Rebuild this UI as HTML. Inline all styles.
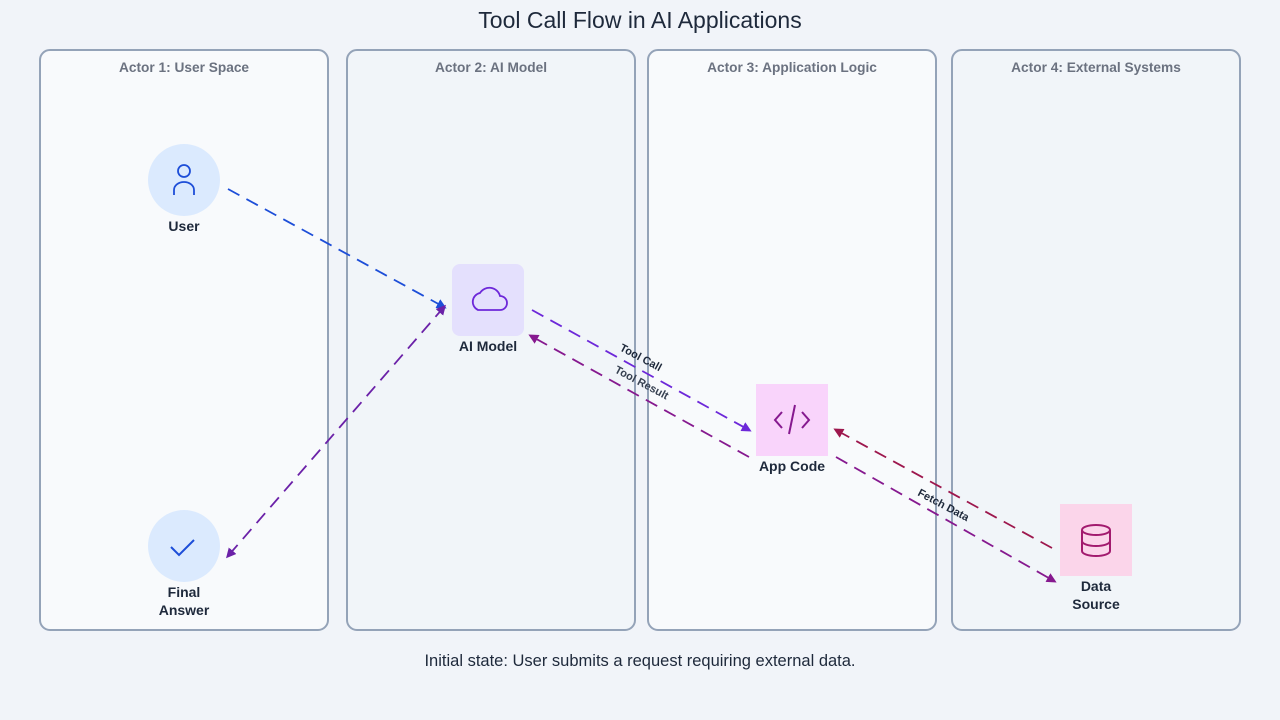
<!DOCTYPE html>
<html><head><meta charset="utf-8"><style>
body{margin:0;background:#f1f4f9;font-family:"Liberation Sans",sans-serif;}
svg{display:block}
text{font-family:"Liberation Sans",sans-serif}
</style></head><body>
<svg width="1280" height="720" viewBox="0 0 1280 720" xmlns="http://www.w3.org/2000/svg">
<defs>
<marker id="a1" markerWidth="10" markerHeight="10" refX="7" refY="5" orient="auto" markerUnits="userSpaceOnUse"><path d="M0,0 L10,5 L0,10 z" fill="#1d4ed8"/></marker>
<marker id="a2" markerWidth="10" markerHeight="10" refX="7" refY="5" orient="auto" markerUnits="userSpaceOnUse"><path d="M0,0 L10,5 L0,10 z" fill="#6d28d9"/></marker>
<marker id="a3" markerWidth="10" markerHeight="10" refX="7" refY="5" orient="auto" markerUnits="userSpaceOnUse"><path d="M0,0 L10,5 L0,10 z" fill="#86198f"/></marker>
<marker id="a4" markerWidth="10" markerHeight="10" refX="7" refY="5" orient="auto" markerUnits="userSpaceOnUse"><path d="M0,0 L10,5 L0,10 z" fill="#9d174d"/></marker>
<marker id="a5" markerWidth="10" markerHeight="10" refX="7" refY="5" orient="auto" markerUnits="userSpaceOnUse"><path d="M0,0 L10,5 L0,10 z" fill="#6b21a8"/></marker>
<marker id="s5" markerWidth="10" markerHeight="10" refX="3" refY="5" orient="auto" markerUnits="userSpaceOnUse"><path d="M10,0 L0,5 L10,10 z" fill="#6b21a8"/></marker>
</defs>
<text x="640" y="28" text-anchor="middle" font-size="23" fill="#1e293b">Tool Call Flow in AI Applications</text>
<g stroke="#94a3b8" stroke-width="2">
<rect x="40" y="50" width="288" height="580" rx="10" fill="#f8fafc"/>
<rect x="347" y="50" width="288" height="580" rx="10" fill="#f1f5f9"/>
<rect x="648" y="50" width="288" height="580" rx="10" fill="#f8fafc"/>
<rect x="952" y="50" width="288" height="580" rx="10" fill="#f1f5f9"/>
</g>
<g font-size="13.7" font-weight="bold" fill="#6b7280" text-anchor="middle">
<text x="184" y="72">Actor 1: User Space</text>
<text x="491" y="72">Actor 2: AI Model</text>
<text x="792" y="72">Actor 3: Application Logic</text>
<text x="1096" y="72">Actor 4: External Systems</text>
</g>
<circle cx="184" cy="180" r="36" fill="#dbeafe"/>
<g fill="none" stroke="#1d4ed8" stroke-width="1.8"><circle cx="184" cy="171" r="6"/><path d="M174,195 v-5 a10,8 0 0 1 20,0 v5"/></g>
<circle cx="184" cy="546" r="36" fill="#dbeafe"/>
<path d="M171,547 l8,8 l15,-15" fill="none" stroke="#1d4ed8" stroke-width="2"/>
<rect x="452" y="264" width="72" height="72" rx="8" fill="#e4e0fd"/>
<path d="M478,310 h22 a7,7 0 0 0 0,-14 a11,11 0 0 0 -20,-3 a9,9 0 0 0 -2,17 z" fill="none" stroke="#6d28d9" stroke-width="1.8"/>
<rect x="756" y="384" width="72" height="72" fill="#f9d4fb"/>
<g fill="none" stroke="#86198f" stroke-width="2"><path d="M782,412 l-7,8 l7,8"/><path d="M802,412 l7,8 l-7,8"/><path d="M795,405 l-6,29"/></g>
<rect x="1060" y="504" width="72" height="72" fill="#fbd5ea"/>
<g fill="none" stroke="#a21a6e" stroke-width="2"><ellipse cx="1096" cy="530" rx="14" ry="5"/><path d="M1082,530 v21 a14,5 0 0 0 28,0 v-21"/><path d="M1082,541 a14,5 0 0 0 28,0"/></g>
<g font-size="14" font-weight="bold" fill="#1e293b" text-anchor="middle">
<text x="184" y="231">User</text>
<text x="184" y="597">Final</text><text x="184" y="615">Answer</text>
<text x="488" y="351">AI Model</text>
<text x="792" y="471">App Code</text>
<text x="1096" y="591">Data</text><text x="1096" y="609">Source</text>
</g>
<g fill="none" stroke-width="1.8" stroke-dasharray="13,8">
<line x1="228" y1="189" x2="444" y2="307" stroke="#1d4ed8" marker-end="url(#a1)"/>
<line x1="444" y1="307" x2="228" y2="556" stroke="#6b21a8" marker-end="url(#a5)" marker-start="url(#s5)"/>
<line x1="532" y1="310" x2="749" y2="430" stroke="#6d28d9" marker-end="url(#a2)"/>
<line x1="749" y1="457" x2="531" y2="336" stroke="#86198f" marker-end="url(#a3)"/>
<line x1="836" y1="457" x2="1054" y2="581" stroke="#86198f" marker-end="url(#a3)"/>
<line x1="1052" y1="548" x2="836" y2="430" stroke="#9d174d" marker-end="url(#a4)"/>
</g>
<g font-size="11" font-weight="bold" fill="#1e293b">
<text transform="translate(619,350) rotate(28)">Tool Call</text>
<text transform="translate(614,372) rotate(28)" fill="#374151">Tool Result</text>
<text transform="translate(917,495) rotate(28)">Fetch Data</text>
</g>
<text x="640" y="666" text-anchor="middle" font-size="16.5" fill="#1e293b">Initial state: User submits a request requiring external data.</text>
</svg>
</body></html>
